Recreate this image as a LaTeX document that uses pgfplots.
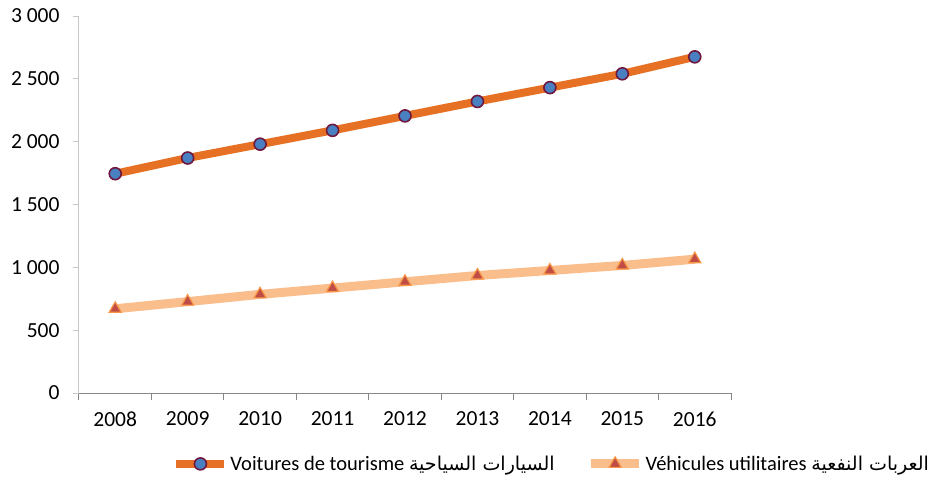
\documentclass[border=0pt]{standalone}
\usepackage{pgfplots}
\pgfplotsset{compat=1.18}
\usepackage{fontspec}
\setmainfont{Carlito}
\newfontfamily\arabicfont[Script=Arabic,Scale=0.93]{DejaVu Sans}
\TeXXeTstate=1
\definecolor{lineA}{RGB}{230,112,35}
\definecolor{fillA}{RGB}{72,128,194}
\definecolor{edgeA}{RGB}{112,24,62}
\definecolor{lineB}{RGB}{250,190,140}
\definecolor{fillB}{RGB}{192,76,70}
\definecolor{edgeB}{RGB}{247,150,70}
\definecolor{yax}{RGB}{200,200,200}
\definecolor{xax}{RGB}{134,134,134}
\begin{document}
\begin{tikzpicture}
\path[use as bounding box] (-79pt,-89pt) rectangle (851pt,393pt);
\begin{axis}[
  at={(0pt,0pt)}, anchor=south west,
  scale only axis, width=652pt, height=377pt,
  xmin=-0.5, xmax=8.5, ymin=0, ymax=3000,
  axis lines*=left,
  y axis line style={draw=yax, line width=1pt},
  x axis line style={draw=xax, line width=1pt},
  xtick={0,...,8},
  xticklabels={2008,2009,2010,2011,2012,2013,2014,2015,2016},
  xtick style={draw=none},
  minor xtick={-0.5,0.5,...,8.5},
  minor x tick style={draw=xax, line width=1pt},
  minor tick length=7pt,
  ytick={0,500,...,3000},
  ytick style={draw=yax, line width=1pt},
  major tick length=6pt,
  tick align=outside,
  /pgf/number format/assume math mode=true,
  /pgf/number format/1000 sep={\ },
  ticklabel style={font=\fontsize{21.5}{24}\selectfont, text=black},
  xticklabel style={yshift=-9pt},
  yticklabel style={xshift=-10pt},
  legend style={at={(0.143,-0.188)}, anchor=west, draw=none, fill=none,
    font=\fontsize{20.5}{24}\selectfont, inner sep=0pt,
    /tikz/every even column/.append style={column sep=30pt}},
  legend columns=2,
  legend cell align=left,
  legend image code/.code={%
    \draw[#1, mark=none] (0pt,0pt) -- (48pt,0pt);
    \draw[#1, only marks] plot coordinates {(24pt,0pt)};},
]
\addplot[lineA, line width=8pt, mark=*, mark size=6pt,
  mark options={solid, fill=fillA, draw=edgeA, line width=1.6pt}]
  coordinates {(0,1745) (1,1870) (2,1980) (3,2090) (4,2205) (5,2320) (6,2430) (7,2540) (8,2675)};
\addlegendentry{Voitures de tourisme {\arabicfont\beginR السيارات السياحية\endR}}
\addplot[lineB, line width=9pt, mark=triangle*, mark size=7pt,
  mark options={solid, fill=fillB, draw=edgeB, line width=1.2pt}]
  coordinates {(0,670) (1,727) (2,785) (3,835) (4,885) (5,935) (6,975) (7,1015) (8,1065)};
\addlegendentry{Véhicules utilitaires {\arabicfont\beginR العربات النفعية\endR}}
\end{axis}
\end{tikzpicture}
\end{document}
